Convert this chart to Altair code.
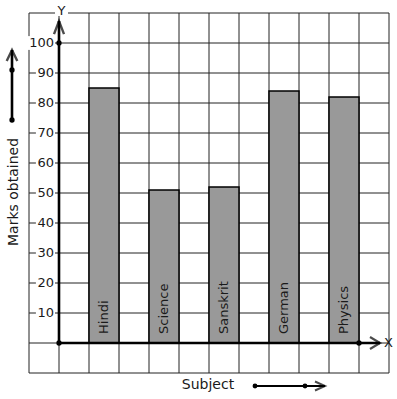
import altair as alt
import pandas as pd

# ---- data ----
subjects = ["Hindi", "Science", "Sanskrit", "German", "Physics"]
marks = [85, 51, 52, 84, 82]
slots = [1, 3, 5, 7, 9]          # left edge of each bar, in grid cells
y_ticks = [10, 20, 30, 40, 50, 60, 70, 80, 90, 100]
grid_x = list(range(-1, 12))
grid_y = list(range(-10, 111, 10))

FONT = "DejaVu Sans"
INK = "#1a1a1a"

XS = alt.Scale(domain=[-1, 11], nice=False, zero=False)
YS = alt.Scale(domain=[-10, 110], nice=False, zero=False)

bars = pd.DataFrame({"subject": subjects, "marks": marks, "x0": slots})
bars["x1"] = bars["x0"] + 1
bars["xc"] = bars["x0"] + 0.5
bars["base"] = 0
bars["lab"] = 3

ticks = pd.DataFrame({"v": y_ticks})
ticks["label"] = ticks["v"].astype(str)
# white boxes behind tick labels (label right edge 5px left of the y-axis)
ticks["bx0"] = (-5 - ticks["label"].str.len() * 8.3 - 1.5) / 30
ticks["bx1"] = -4 / 30
ticks["by0"] = ticks["v"] - 2.3
ticks["by1"] = ticks["v"] + 2.3

gx = pd.DataFrame({"g": grid_x})
gy = pd.DataFrame({"g": grid_y})
one = pd.DataFrame({"d": [0]})

vgrid = alt.Chart(gx).mark_rule(color="#222", strokeWidth=1).encode(
    x=alt.X("g:Q", scale=XS, axis=None), y=alt.value(0), y2=alt.value(360))
hgrid = alt.Chart(gy).mark_rule(color="#222", strokeWidth=1).encode(
    y=alt.Y("g:Q", scale=YS, axis=None), x=alt.value(0), x2=alt.value(360))

tick_bg = alt.Chart(ticks).mark_rect(color="white").encode(
    x=alt.X("bx0:Q", scale=XS, axis=None), x2="bx1:Q",
    y=alt.Y("by0:Q", scale=YS, axis=None), y2="by1:Q")
tick_txt = alt.Chart(ticks).mark_text(
    font=FONT, fontSize=13, align="right", baseline="middle", color=INK
).encode(x=alt.value(25), y=alt.Y("v:Q", scale=YS, axis=None), text="label:N")

bar = alt.Chart(bars).mark_rect(color="#999999", stroke="black", strokeWidth=1.5).encode(
    x=alt.X("x0:Q", scale=XS, axis=None), x2="x1:Q",
    y=alt.Y("base:Q", scale=YS, axis=None), y2="marks:Q")
bar_txt = alt.Chart(bars).mark_text(
    font=FONT, fontSize=13, angle=270, align="left", baseline="middle", color=INK
).encode(x=alt.X("xc:Q", scale=XS, axis=None), y=alt.Y("lab:Q", scale=YS, axis=None),
         text="subject:N")

# axes
axes_df = pd.DataFrame({"x0": [0, 0], "x1": [10.7, 0], "y0": [0, 0], "y1": [0, 107.3]})
axis_lines = alt.Chart(axes_df).mark_rule(color="black", strokeWidth=2.6).encode(
    x=alt.X("x0:Q", scale=XS, axis=None), x2="x1:Q",
    y=alt.Y("y0:Q", scale=YS, axis=None), y2="y1:Q")
dots_df = pd.DataFrame({"x": [0, 0, 10], "y": [0, 100, 0]})
dots = alt.Chart(dots_df).mark_circle(color="black", size=28, opacity=1).encode(
    x=alt.X("x:Q", scale=XS, axis=None), y=alt.Y("y:Q", scale=YS, axis=None))
up_head = alt.Chart(pd.DataFrame({"x": [0], "y": [107.3]})).mark_point(
    shape="M-1,2.6L0,0L1,2.6", size=100, filled=False, stroke="black", strokeWidth=2.4
).encode(x=alt.X("x:Q", scale=XS, axis=None), y=alt.Y("y:Q", scale=YS, axis=None))
right_head = alt.Chart(pd.DataFrame({"x": [10.7], "y": [0]})).mark_point(
    shape="M-2,-1.2L0,0L-2,1.2", size=100, filled=False, stroke="black", strokeWidth=2.2
).encode(x=alt.X("x:Q", scale=XS, axis=None), y=alt.Y("y:Q", scale=YS, axis=None))

y_bg = alt.Chart(one).mark_rect(color="white").encode(
    x=alt.value(26), x2=alt.value(39), y=alt.value(-7), y2=alt.value(3))
y_lab = alt.Chart(one).mark_text(font=FONT, fontSize=13, color=INK, text="Y",
                                  baseline="middle").encode(x=alt.value(32.5), y=alt.value(-2))
x_lab = alt.Chart(one).mark_text(font=FONT, fontSize=13, color=INK, text="X",
                                  baseline="middle").encode(x=alt.value(359.5), y=alt.value(330))

# side titles with arrows
ytitle = alt.Chart(one).mark_text(font=FONT, fontSize=14, color=INK, text="Marks obtained",
                                   angle=270, baseline="middle").encode(
    x=alt.value(-15), y=alt.value(179))
xtitle = alt.Chart(one).mark_text(font=FONT, fontSize=14, color=INK, text="Subject",
                                   baseline="middle").encode(x=alt.value(179), y=alt.value(372))

left_line = alt.Chart(one).mark_rule(color="black", strokeWidth=2.6).encode(
    x=alt.value(-17), y=alt.value(107), y2=alt.value(37))
left_dots = alt.Chart(pd.DataFrame({"py": [107, 57]})).mark_circle(
    color="black", size=28, opacity=1).encode(x=alt.value(-17), y=alt.Y("py:Q", scale=None))
left_head = alt.Chart(one).mark_point(
    shape="M-1.06,2.2L0,0L1.06,2.2", size=100, filled=False, stroke="black", strokeWidth=2.4
).encode(x=alt.value(-17), y=alt.value(37))

bot_line = alt.Chart(one).mark_rule(color="black", strokeWidth=2).encode(
    x=alt.value(226), x2=alt.value(296), y=alt.value(373))
bot_dots = alt.Chart(pd.DataFrame({"px": [226, 276]})).mark_circle(
    color="black", size=24, opacity=1).encode(x=alt.X("px:Q", scale=None), y=alt.value(373))
bot_head = alt.Chart(one).mark_point(
    shape="M-2,-0.9L0,0L-2,0.9", size=100, filled=False, stroke="black", strokeWidth=2
).encode(x=alt.value(296), y=alt.value(373))

chart = alt.layer(
    vgrid, hgrid, tick_bg, tick_txt, bar, bar_txt, axis_lines, dots, up_head, right_head,
    y_bg, y_lab, x_lab, ytitle, xtitle, left_line, left_dots, left_head,
    bot_line, bot_dots, bot_head
).resolve_scale(x="shared", y="shared").properties(
    width=360, height=360,
    padding={"left": 29, "top": 13, "right": 8, "bottom": 26},
    autosize=alt.AutoSizeParams(type="none"),
    background="white",
).configure_view(stroke=None)

chart.save("out.html", embed_options={"renderer": "svg", "actions": False})
